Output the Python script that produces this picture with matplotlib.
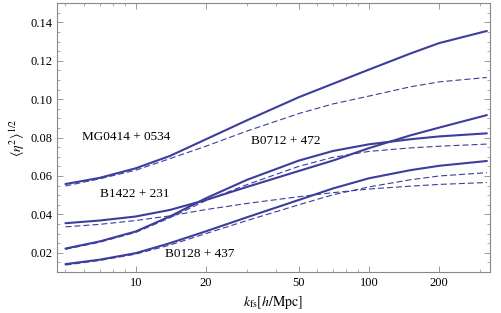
import numpy as np
import matplotlib
matplotlib.use("Agg")
import matplotlib.pyplot as plt
from matplotlib.ticker import FixedLocator, NullFormatter, LogLocator, MultipleLocator, FormatStrFormatter

plt.rcParams['font.family'] = 'serif'
plt.rcParams['font.serif'] = ['Liberation Serif', 'DejaVu Serif']
plt.rcParams['mathtext.fontset'] = 'stix'

# k_fs [h/Mpc] sample points
k_fs = [5, 7, 10, 14, 20, 30, 50, 70, 100, 150, 200, 320]

# MG0414+0534
mg_solid  = [0.0558, 0.0590, 0.0640, 0.0704, 0.0791, 0.0890, 0.1010, 0.1080, 0.1154, 0.1237, 0.1292, 0.1355]
mg_dashed = [0.0548, 0.0585, 0.0630, 0.0690, 0.0755, 0.0834, 0.0925, 0.0975, 0.1016, 0.1064, 0.1090, 0.1113]
# B1422+231
b1422_solid  = [0.0354, 0.0368, 0.0389, 0.0423, 0.0475, 0.0543, 0.0626, 0.0680, 0.0745, 0.0811, 0.0852, 0.0917]
b1422_dashed = [0.0335, 0.0348, 0.0368, 0.0392, 0.0425, 0.0457, 0.0492, 0.0513, 0.0532, 0.0547, 0.0556, 0.0566]
# B0712+472
b0712_solid  = [0.0222, 0.0259, 0.0311, 0.0389, 0.0484, 0.0580, 0.0680, 0.0730, 0.0765, 0.0791, 0.0806, 0.0822]
b0712_dashed = [0.0218, 0.0255, 0.0306, 0.0382, 0.0472, 0.0555, 0.0650, 0.0697, 0.0728, 0.0746, 0.0755, 0.0766]
# B0128+437
b0128_solid  = [0.0141, 0.0164, 0.0198, 0.0250, 0.0312, 0.0385, 0.0475, 0.0535, 0.0588, 0.0630, 0.0653, 0.0678]
b0128_dashed = [0.0136, 0.0160, 0.0193, 0.0240, 0.0300, 0.0368, 0.0450, 0.0502, 0.0543, 0.0580, 0.0600, 0.0617]

labels = ["MG0414 + 0534", "B0712 + 472", "B1422 + 231", "B0128 + 437"]
label_pos = [(9.1, 0.0803), (44.0, 0.0782), (9.9, 0.0507), (18.8, 0.0195)]

col = '#3d3d9c'

fig = plt.figure(figsize=(5.01, 3.13), dpi=100)
ax = fig.add_axes([0.1138, 0.131, 0.978 - 0.1138, 0.990 - 0.131])

for s, d in [(mg_solid, mg_dashed), (b1422_solid, b1422_dashed),
             (b0712_solid, b0712_dashed), (b0128_solid, b0128_dashed)]:
    ax.plot(k_fs, s, color=col, lw=1.5, solid_capstyle='round', solid_joinstyle='round')
    ax.plot(k_fs, d, color=col, lw=0.8, ls=(0, (5.4, 2.7)))

for t, (x, y) in zip(labels, label_pos):
    ax.text(x, y, t, fontsize=9.5, ha='center', va='center')

ax.set_xscale('log')
ax.set_xlim(4.6, 330)
ax.set_ylim(0.01, 0.15)

ax.xaxis.set_major_locator(FixedLocator([10, 20, 50, 100, 200]))
ax.xaxis.set_major_formatter(FormatStrFormatter('%d'))
ax.xaxis.set_minor_locator(LogLocator(subs=np.arange(2, 10)))
ax.xaxis.set_minor_formatter(NullFormatter())
ax.yaxis.set_major_locator(MultipleLocator(0.02))
ax.yaxis.set_minor_locator(MultipleLocator(0.005))
ax.yaxis.set_major_formatter(FormatStrFormatter('%.2f'))

ax.tick_params(which='both', direction='in', top=True, right=True, color='#888888',
               labelsize=9, labelcolor='black')
ax.tick_params(which='major', length=4.5, width=0.6)
ax.tick_params(which='minor', length=2.5, width=0.5)
for sp in ax.spines.values():
    sp.set_color('#888888')
    sp.set_linewidth(0.8)

ax.set_xlabel(r'$k_{\rm fs}[h/{\rm Mpc}]$', fontsize=10, labelpad=4)
ax.set_ylabel(r'$\langle\eta^2\rangle^{1/2}$', fontsize=10, labelpad=2)

fig.savefig('out.png', dpi=100)
